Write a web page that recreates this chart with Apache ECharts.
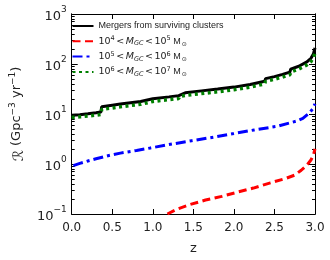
<!DOCTYPE html>
<html><head><meta charset="utf-8">
<script src="https://cdn.jsdelivr.net/npm/echarts@6/dist/echarts.min.js"></script>
<style>html,body{margin:0;padding:0;background:#fff}#c{width:330px;height:260px}</style>
</head><body><div id="c"></div>
<script>
// ---- data ----
const zBlack = [0, 0.1, 0.2, 0.3, 0.36, 0.37, 0.5, 0.6, 0.7, 0.85, 0.86, 1.0, 1.2, 1.32, 1.33, 1.4, 1.6, 1.8, 2.0, 2.2, 2.38, 2.39, 2.5, 2.6, 2.69, 2.70, 2.8, 2.9, 2.95, 2.98, 3.0];
const vBlack = [9.4, 9.7, 10.1, 10.6, 11.0, 14.0, 15.0, 15.8, 16.6, 17.8, 19.3, 20.2, 22.0, 23.3, 25.5, 26.6, 29.0, 31.5, 34.5, 39, 45, 51, 56, 62, 69, 79, 90, 110, 130, 158, 210];
const zGreen = zBlack;
const vGreen = [8.5, 8.8, 9.1, 9.5, 9.8, 12.4, 13.2, 13.9, 14.6, 15.6, 17.0, 17.8, 19.4, 20.5, 22.5, 23.6, 25.6, 27.8, 30.5, 34.5, 40, 45, 49.5, 55, 61, 69, 79, 96, 112, 135, 165];
const zBlue = [0.02, 0.1, 0.2, 0.3, 0.46, 0.6, 0.8, 0.97, 1.2, 1.48, 1.75, 2.0, 2.25, 2.54, 2.77, 2.85, 2.93, 2.97, 3.0];
const vBlue = [0.93, 1.03, 1.15, 1.27, 1.48, 1.65, 1.87, 2.09, 2.45, 2.92, 3.45, 4.06, 4.8, 5.7, 7.2, 8.2, 10.5, 12.5, 16];
const zRed = [1.18, 1.3, 1.46, 1.65, 1.85, 2.05, 2.24, 2.45, 2.64, 2.75, 2.83, 2.9, 2.95, 2.98, 3.0];
const vRed = [0.1, 0.125, 0.155, 0.19, 0.225, 0.275, 0.33, 0.42, 0.515, 0.6, 0.75, 0.95, 1.2, 1.5, 2.0];
const xTicks = [0, 0.5, 1.0, 1.5, 2.0, 2.5, 3.0];
const yMajor = [0.1, 1, 10, 100, 1000];
const names = ['Mergers from surviving clusters', 'r', 'b', 'g'];
const legendLabels = {
  'Mergers from surviving clusters': '{p|Mergers from surviving clusters}',
  'r': '10{sp|4}{rel|<}{it|M}{sb|GC}{rel|<}10{sp|5}{p| M}{od|⊙}',
  'b': '10{sp|5}{rel|<}{it|M}{sb|GC}{rel|<}10{sp|6}{p| M}{od|⊙}',
  'g': '10{sp|6}{rel|<}{it|M}{sb|GC}{rel|<}10{sp|7}{p| M}{od|⊙}'
};
// ---- build ----
const zip = (a, b) => a.map((x, i) => [x, b[i]]);
const yMinor = [];
for (let d = 0.1; d < 1000; d *= 10) for (let k = 2; k <= 9; k++) yMinor.push(+(k * d).toPrecision(3));
const F = 'DejaVu Sans';
const FA = 'Liberation Sans';
const TXT = '#222';
const chart = echarts.init(document.getElementById('c'), null, {renderer: 'canvas'});
const lineC = {lineStyle: {color: '#000', width: 1}};
function yAx(pos, minor) {
  return {
    type: 'log', logBase: 10, min: 0.1, max: 1000, position: pos,
    axisLine: {show: true, onZero: false, ...lineC},
    axisTick: {show: true, inside: true, length: minor ? 3 : 6, customValues: minor ? yMinor : yMajor, lineStyle: {color: '#000', width: 1}},
    axisLabel: (pos === 'left' && !minor) ? {
      show: true, customValues: yMajor, margin: 5,
      formatter: v => { const e = Math.round(Math.log10(v)); return '{b|10}{s|' + String(e).replace('-', '−') + '}'; },
      rich: {b: {fontSize: 13, fontFamily: F, color: TXT, lineHeight: 18, verticalAlign: 'bottom'},
             s: {fontSize: 9, fontFamily: F, color: TXT, lineHeight: 9, verticalAlign: 'top'}}
    } : {show: false},
    splitLine: {show: false}, minorTick: {show: false}, minorSplitLine: {show: false},
    ...( (pos === 'left' && !minor) ? {
      name: '{r|ℛ} (Gpc{s|−3} yr{s|−1})', nameLocation: 'middle', nameGap: 45,
      nameTextStyle: {fontSize: 13, fontFamily: F, color: TXT,
        rich: {r: {fontSize: 14, fontFamily: F, color: TXT, lineHeight: 18, verticalAlign: 'bottom'},
               s: {fontSize: 9, fontFamily: F, color: TXT, lineHeight: 9, verticalAlign: 'top'}}}
    } : {})
  };
}
function xAx(pos) {
  return {
    type: 'value', min: 0, max: 3, interval: 0.5, position: pos,
    axisLine: {show: true, onZero: false, ...lineC},
    axisTick: {show: true, inside: true, length: 5, lineStyle: {color: '#000', width: 1}},
    axisLabel: pos === 'bottom' ? {show: true, formatter: v => v.toFixed(1), fontSize: 12, fontFamily: F, color: TXT, margin: 8} : {show: false},
    splitLine: {show: false},
    ...(pos === 'bottom' ? {name: 'z', nameLocation: 'middle', nameGap: 28, nameTextStyle: {fontSize: 13, fontFamily: F, color: TXT}} : {})
  };
}
const option = {
  animation: false,
  backgroundColor: '#fff',
  grid: {left: 60, right: 15, top: 14, bottom: 42, containLabel: false},
  xAxis: [xAx('bottom'), xAx('top')],
  yAxis: [yAx('left', false), yAx('left', true), yAx('right', false), yAx('right', true)],
  legend: {
    orient: 'vertical', left: 66.5, top: 15, itemWidth: 21, itemHeight: 12, itemGap: 3.3,
    data: names,
    itemStyle: {opacity: 0},
    formatter: n => legendLabels[n],
    textStyle: {fontSize: 9.5, fontFamily: F, color: TXT, lineHeight: 12,
      rich: {p: {fontSize: 9, fontFamily: FA, color: TXT, lineHeight: 12},
             rel: {fontSize: 9.5, fontFamily: F, color: TXT, lineHeight: 12, padding: [0, 1.5, 0, 1.5]},
             sp: {fontSize: 6.5, fontFamily: F, color: TXT, lineHeight: 6, verticalAlign: 'top'},
             sb: {fontSize: 6.5, fontFamily: F, color: TXT, fontStyle: 'italic', lineHeight: 6, verticalAlign: 'bottom'},
             od: {fontSize: 6, fontFamily: F, color: TXT, lineHeight: 6, verticalAlign: 'bottom', padding: [0, 0, 0, 1]},
             it: {fontSize: 9.5, fontFamily: F, color: TXT, fontStyle: 'italic', lineHeight: 12}}}
  },
  series: [
    {name: names[0], type: 'line', data: zip(zBlack, vBlack), showSymbol: false, symbol: 'none', color: '#000',
     lineStyle: {color: '#000', width: 3}, z: 2},
    {name: names[1], type: 'line', data: zip(zRed, vRed), showSymbol: false, symbol: 'none', color: '#ff0000',
     lineStyle: {color: '#ff0000', width: 3, type: [8, 4.5]}, z: 3},
    {name: names[2], type: 'line', data: zip(zBlue, vBlue), showSymbol: false, symbol: 'none', color: '#0000ff',
     lineStyle: {color: '#0000ff', width: 3, type: [10, 4, 3, 4]}, z: 4},
    {name: names[3], type: 'line', data: zip(zGreen, vGreen), showSymbol: false, symbol: 'none', color: '#008000',
     lineStyle: {color: '#008000', width: 3.5, type: [3, 3.5]}, z: 5}
  ]
};
chart.setOption(option);
</script></body></html>
